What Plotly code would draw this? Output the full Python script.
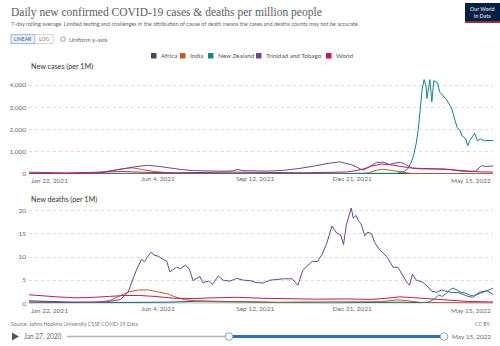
import plotly.graph_objects as go

W, H = 500, 346
def px(x): return x / W
def py(y): return 1 - y / H

# ---------------- data ----------------
series_names = ["Africa", "India", "New Zealand", "Trinidad and Tobago", "World"]
series_colors = ["#3d4a5e", "#bf5a1e", "#13877c", "#6b4690", "#c9175b"]

# New cases per million (7-day avg)
africa_cases_d = ["2021-01-22","2021-02-15","2021-03-15","2021-04-15","2021-05-15","2021-06-15","2021-07-15","2021-08-15","2021-09-15","2021-10-15","2021-11-15","2021-12-10","2021-12-25","2022-01-10","2022-02-01","2022-03-01","2022-04-01","2022-05-15"]
africa_cases_v = [17,9,7,8,6,12,24,17,10,4,3,10,27,22,9,5,4,6]

india_cases_d = ["2021-01-22","2021-02-15","2021-03-10","2021-03-25","2021-04-10","2021-04-25","2021-05-08","2021-05-20","2021-06-01","2021-06-15","2021-07-01","2021-08-01","2021-09-01","2021-09-20","2021-10-15","2021-11-15","2021-12-15","2021-12-31","2022-01-07","2022-01-15","2022-01-22","2022-02-01","2022-02-10","2022-02-20","2022-03-05","2022-04-01","2022-05-15"]
india_cases_v = [11,9,12,34,90,210,280,200,105,55,35,29,30,22,12,8,5,12,60,170,215,150,65,20,5,1,2]

nz_cases_d = ["2021-01-22","2021-06-01","2021-09-01","2021-12-01","2022-01-22","2022-02-05","2022-02-12","2022-02-16","2022-02-19","2022-02-22","2022-02-25","2022-02-27","2022-03-01","2022-03-03","2022-03-05","2022-03-07","2022-03-08","2022-03-10","2022-03-11","2022-03-13","2022-03-15","2022-03-17","2022-03-19","2022-03-21","2022-03-23","2022-03-28","2022-04-02","2022-04-05","2022-04-08","2022-04-11","2022-04-13","2022-04-17","2022-04-19","2022-04-21","2022-04-23","2022-04-26","2022-04-29","2022-05-02","2022-05-06","2022-05-10","2022-05-15"]
nz_cases_v = [1,0,5,30,8,30,110,220,450,800,1400,2000,2900,3800,4250,3950,3400,4000,4250,3250,4200,4150,4100,3700,3600,3350,3000,2500,2100,1950,1720,1580,1270,1500,1650,1830,1500,1580,1500,1500,1510]

tt_cases_d = ["2021-01-22","2021-02-15","2021-03-10","2021-03-25","2021-04-05","2021-04-20","2021-05-01","2021-05-12","2021-05-24","2021-06-05","2021-06-15","2021-06-28","2021-07-10","2021-07-25","2021-08-10","2021-08-20","2021-08-25","2021-08-30","2021-09-10","2021-09-25","2021-10-10","2021-10-27","2021-11-13","2021-11-25","2021-12-08","2021-12-14","2021-12-20","2021-12-26","2022-01-01","2022-01-08","2022-01-15","2022-01-22","2022-01-28","2022-02-04","2022-02-09","2022-02-14","2022-02-21","2022-03-05","2022-03-20","2022-04-01","2022-04-12","2022-04-20","2022-04-27","2022-05-03","2022-05-08","2022-05-12","2022-05-15"]
tt_cases_v = [8,10,12,25,60,150,250,330,390,340,270,200,150,130,125,140,210,150,140,130,160,245,365,470,545,480,420,300,170,330,520,530,430,500,520,430,260,250,220,200,130,110,130,370,340,370,360]

world_cases_d = ["2021-01-22","2021-02-15","2021-03-01","2021-03-25","2021-04-15","2021-04-28","2021-05-15","2021-06-01","2021-06-20","2021-07-10","2021-08-01","2021-08-20","2021-09-10","2021-10-10","2021-11-01","2021-11-25","2021-12-15","2021-12-25","2022-01-01","2022-01-10","2022-01-20","2022-01-28","2022-02-05","2022-02-18","2022-03-01","2022-03-15","2022-03-25","2022-04-05","2022-04-20","2022-05-01","2022-05-15"]
world_cases_v = [80,50,48,70,100,108,85,62,48,62,80,85,75,54,55,72,90,150,220,350,450,420,360,280,230,240,225,180,120,95,85]

# New deaths per million (7-day avg)
africa_deaths_d = ["2021-01-22","2021-02-10","2021-03-10","2021-05-01","2021-06-15","2021-07-20","2021-08-15","2021-09-15","2021-10-15","2021-12-01","2022-01-15","2022-02-10","2022-03-10","2022-05-15"]
africa_deaths_v = [0.55,0.45,0.25,0.2,0.25,0.5,0.45,0.3,0.15,0.05,0.2,0.25,0.1,0.03]

india_deaths_d = ["2021-01-22","2021-03-01","2021-04-01","2021-04-15","2021-04-25","2021-05-05","2021-05-15","2021-05-25","2021-06-01","2021-06-10","2021-06-15","2021-06-20","2021-07-01","2021-07-15","2021-08-01","2021-09-01","2021-10-01","2021-11-01","2021-12-01","2022-01-01","2022-01-20","2022-02-05","2022-02-15","2022-03-01","2022-04-01","2022-05-15"]
india_deaths_v = [0.1,0.08,0.2,0.6,1.6,2.5,2.9,2.9,2.6,2.2,2.0,1.5,0.8,0.5,0.35,0.3,0.2,0.3,0.3,0.2,0.35,0.75,0.6,0.2,0.1,0.03]

nz_deaths_d = ["2021-01-22","2022-02-20","2022-03-01","2022-03-10","2022-03-16","2022-03-20","2022-03-24","2022-03-28","2022-04-01","2022-04-04","2022-04-08","2022-04-12","2022-04-17","2022-04-21","2022-04-25","2022-04-29","2022-05-03","2022-05-08","2022-05-12","2022-05-15"]
nz_deaths_v = [0,0,0.05,0.3,1.0,1.8,1.5,2.2,3.0,3.3,2.9,2.4,2.2,1.8,1.6,1.9,2.3,2.7,3.0,3.3]

tt_deaths_d = ["2021-01-22","2021-03-01","2021-04-10","2021-04-26","2021-05-04","2021-05-09","2021-05-13","2021-05-18","2021-05-21","2021-05-24","2021-05-28","2021-05-31","2021-06-04","2021-06-09","2021-06-13","2021-06-16","2021-06-19","2021-06-23","2021-06-27","2021-07-02","2021-07-06","2021-07-10","2021-07-17","2021-07-20","2021-07-26","2021-07-30","2021-08-05","2021-08-10","2021-08-17","2021-08-24","2021-08-31","2021-09-07","2021-09-13","2021-09-20","2021-09-27","2021-10-04","2021-10-11","2021-10-20","2021-10-26","2021-10-31","2021-11-05","2021-11-10","2021-11-15","2021-11-20","2021-11-25","2021-11-30","2021-12-05","2021-12-09","2021-12-12","2021-12-15","2021-12-20","2021-12-22","2021-12-25","2021-12-27","2021-12-30","2022-01-03","2022-01-06","2022-01-10","2022-01-13","2022-01-18","2022-01-26","2022-02-01","2022-02-06","2022-02-11","2022-02-15","2022-02-18","2022-02-21","2022-02-25","2022-03-03","2022-03-08","2022-03-13","2022-03-18","2022-03-23","2022-04-01","2022-04-10","2022-04-18","2022-04-24","2022-05-01","2022-05-09","2022-05-15"]
tt_deaths_v = [0.3,0.2,0.3,0.8,2.4,5.2,7.4,9.5,9.0,10.0,11.1,10.4,10.2,9.5,9.1,6.8,7.3,7.8,7.5,8.2,7.5,4.9,5.8,4.5,4.8,4.1,5.9,5.0,4.8,5.4,5.0,4.9,4.5,4.4,5.0,5.2,5.3,5.3,3.9,7.1,8.2,9.1,9.0,10.6,13.1,16.7,15.2,14.8,12.7,17.0,20.6,18.4,19.0,18.0,17.2,14.6,15.4,15.0,13.2,11.6,10.0,7.8,7.8,6.0,4.6,3.9,6.3,5.0,4.6,3.8,2.6,2.4,2.9,2.4,2.3,1.6,1.3,2.4,2.7,1.9]

world_deaths_d = ["2021-01-22","2021-02-01","2021-02-20","2021-03-10","2021-03-25","2021-04-15","2021-04-30","2021-05-15","2021-06-01","2021-06-20","2021-07-10","2021-08-01","2021-08-25","2021-09-20","2021-10-15","2021-11-15","2021-12-15","2022-01-10","2022-01-25","2022-02-08","2022-02-20","2022-03-10","2022-04-01","2022-04-20","2022-05-15"]
world_deaths_v = [1.85,1.75,1.4,1.2,1.25,1.5,1.7,1.7,1.5,1.1,1.05,1.2,1.3,1.1,0.95,0.9,0.95,0.85,1.1,1.4,1.25,0.95,0.6,0.4,0.3]

cases = [(africa_cases_d, africa_cases_v), (india_cases_d, india_cases_v), (nz_cases_d, nz_cases_v), (tt_cases_d, tt_cases_v), (world_cases_d, world_cases_v)]
deaths = [(africa_deaths_d, africa_deaths_v), (india_deaths_d, india_deaths_v), (nz_deaths_d, nz_deaths_v), (tt_deaths_d, tt_deaths_v), (world_deaths_d, world_deaths_v)]

x_start, x_end = "2021-01-22", "2022-05-15"
mid_ticks = ["2021-06-04", "2021-09-12", "2021-12-21"]
mid_tick_text = ["Jun 4, 2021", "Sep 12, 2021", "Dec 21, 2021"]
end_tick_text = ["Jan 22, 2021", "May 15, 2022"]
cases_ticks = [0, 1000, 2000, 3000, 4000]
deaths_ticks = [0, 5, 10, 15, 20]

title = "Daily new confirmed COVID-19 cases &amp; deaths per million people"
subtitle = "7-day rolling average. Limited testing and challenges in the attribution of cause of death means the cases and deaths counts may not be accurate."
source = "Source: Johns Hopkins University CSSE COVID-19 Data"

FONT = "Lato, 'Open Sans', sans-serif"
GREY = "#6a6a6a"

fig = go.Figure()
for (d, v), c in zip(cases, series_colors):
    fig.add_trace(go.Scatter(x=d, y=v, mode="lines", line=dict(color=c, width=1.0), xaxis="x", yaxis="y", showlegend=False))
for (d, v), c in zip(deaths, series_colors):
    fig.add_trace(go.Scatter(x=d, y=v, mode="lines", line=dict(color=c, width=1.0), xaxis="x2", yaxis="y2", showlegend=False))

xd = [px(29), px(493)]
top_zero, top_px_per = 175.5, 0.0224
bot_zero, bot_px_per = 306.0, 4.67
top_max, bot_max = 4300, 21
ydom1 = [py(top_zero), py(top_zero - top_max * top_px_per)]
ydom2 = [py(bot_zero), py(bot_zero - bot_max * bot_px_per)]

xcommon = dict(range=[x_start, x_end], tickvals=mid_ticks, ticktext=mid_tick_text, showgrid=False,
               showline=False, zeroline=False, ticks="", tickfont=dict(family=FONT, size=6.5, color=GREY),
               domain=xd, fixedrange=True)
ycommon = dict(showline=False, zeroline=False, ticks="", gridcolor="#dcdcdc", griddash="dot", gridwidth=0.8,
               tickfont=dict(family=FONT, size=6.5, color=GREY), ticklabelstandoff=2)

fig.update_layout(
    width=W, height=H, margin=dict(l=0, r=0, t=0, b=0),
    paper_bgcolor="white", plot_bgcolor="white", showlegend=False,
    xaxis=dict(**xcommon, anchor="y"),
    xaxis2=dict(**xcommon, anchor="y2"),
    yaxis=dict(**ycommon, domain=ydom1, range=[0, top_max], tickvals=cases_ticks, tickformat=",", anchor="x"),
    yaxis2=dict(**ycommon, domain=ydom2, range=[0, bot_max], tickvals=deaths_ticks, anchor="x2"),
)

ann = []
def text(x, y, s, size, color=GREY, xanchor="left", family=FONT, **kw):
    ann.append(dict(x=px(x), y=py(y), xref="paper", yref="paper", text=s, showarrow=False,
                    xanchor=xanchor, yanchor="middle", font=dict(family=family, size=size, color=color), **kw))

# end tick labels on x axes
for yy in (182.5, 313):
    ann.append(dict(x=x_start, y=py(yy), xref="x", yref="paper", text=end_tick_text[0], showarrow=False,
                    xanchor="left", yanchor="middle", font=dict(family=FONT, size=6.5, color=GREY)))
    ann.append(dict(x=x_end, y=py(yy), xref="x", yref="paper", text=end_tick_text[1], showarrow=False,
                    xanchor="right", yanchor="middle", font=dict(family=FONT, size=6.5, color=GREY)))

text(9, 13, title, 11.5, color="#5b5b5b", family="'Liberation Serif', 'DejaVu Serif', serif")
text(9, 24.5, subtitle, 5.5, color="#666")
text(29, 67, "New cases (per 1M)", 7.2, color="#333")
text(29, 201, "New deaths (per 1M)", 7.2, color="#333")
text(9, 327, source, 5.2, color="#777")
text(492, 327, "CC BY", 5.2, color="#777", xanchor="right")
text(22, 339.5, "Jan 27, 2020", 6.6, color=GREY)
text(493, 339.5, "May 15, 2022", 6.4, color=GREY, xanchor="right")
text(23.3, 39.5, "LINEAR", 5, color="#2b5da8", xanchor="center")
text(44, 39.5, "LOG", 5, color="#777", xanchor="center")
text(67, 39.5, "Uniform y-axis", 6, color="#666")
text(482.5, 9.5, "Our World", 5.3, color="white", xanchor="center")
text(482.5, 16, "in Data", 5.3, color="white", xanchor="center")

shapes = []
def rect(x0, y0, x1, y1, fill, line=None, lw=0.8):
    shapes.append(dict(type="rect", xref="paper", yref="paper", x0=px(x0), x1=px(x1), y0=py(y1), y1=py(y0),
                       fillcolor=fill, line=dict(color=line or fill, width=lw if line else 0)))

# legend
leg_x = [151, 180, 208, 256, 326]
for lx, name, c in zip(leg_x, series_names, series_colors):
    rect(lx, 53.5, lx + 5.5, 59, c)
    text(lx + 7.5, 56.3, name, 6.3, color="#555")

# buttons
rect(11, 35, 35, 44, "#eaf1fa", "#7fa3d1")
rect(35, 35, 53, 44, "white", "#cccccc")
rect(61, 37.5, 65, 41.5, "white", "#888888", 0.7)

# logo
rect(465, 3, 500, 23, "#002147")
rect(465, 21.5, 500, 23, "#ce261e")

# timeline
shapes.append(dict(type="path", xref="paper", yref="paper",
                   path=f"M {px(12)},{py(335.5)} L {px(19)},{py(339.5)} L {px(12)},{py(343.5)} Z",
                   fillcolor="#555", line=dict(width=0)))
shapes.append(dict(type="line", xref="paper", yref="paper", x0=px(67), x1=px(229), y0=py(339.5), y1=py(339.5),
                   line=dict(color="#b5b5b5", width=1.5)))
shapes.append(dict(type="line", xref="paper", yref="paper", x0=px(229), x1=px(444), y0=py(339.5), y1=py(339.5),
                   line=dict(color="#2a72c0", width=3)))
for cx in (229, 444):
    shapes.append(dict(type="circle", xref="paper", yref="paper", x0=px(cx - 3.8), x1=px(cx + 3.8),
                       y0=py(343.3), y1=py(335.7), fillcolor="white", line=dict(color="#6a8fb8", width=0.8)))

fig.update_layout(annotations=ann, shapes=shapes)
fig.write_html("out.html")
